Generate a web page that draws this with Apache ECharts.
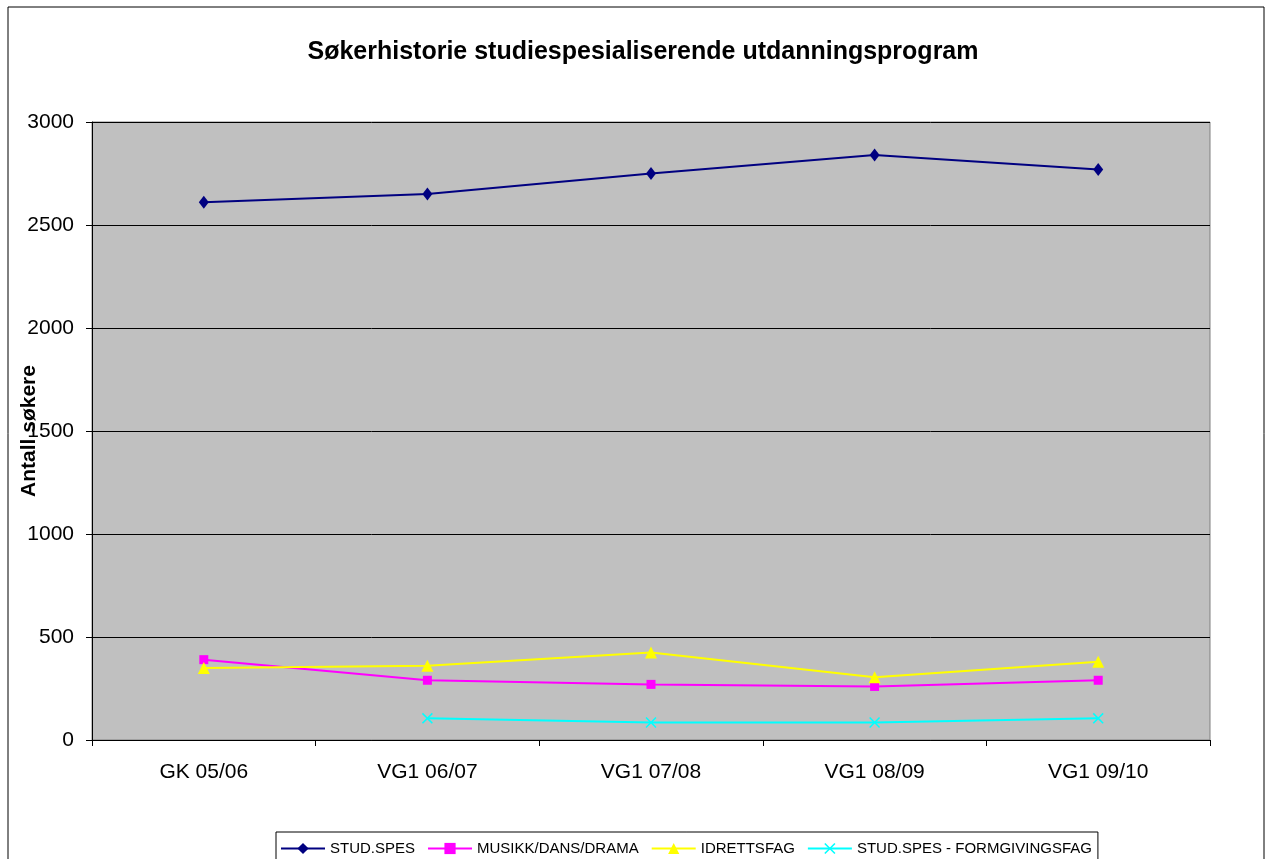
<!DOCTYPE html>
<html>
<head>
<meta charset="utf-8">
<script src="https://cdn.jsdelivr.net/npm/echarts@6/dist/echarts.min.js"></script>
<style>
  html, body { margin: 0; padding: 0; background: #fff; }
</style>
</head>
<body>
<div id="main" style="width:1266px;height:859px;"></div>
<script type="text/javascript">
    // data
    var categories = ['GK 05/06', 'VG1 06/07', 'VG1 07/08', 'VG1 08/09', 'VG1 09/10'];
    var studSpes = [2610, 2650, 2750, 2840, 2770];
    var musikk = [390, 290, 270, 260, 290];
    var idrett = [350, 360, 425, 305, 380];
    var formgiving = [null, 105, 85, 85, 105];
    var yTicks = [0, 500, 1000, 1500, 2000, 2500, 3000];

    var names = ['STUD.SPES', 'MUSIKK/DANS/DRAMA', 'IDRETTSFAG', 'STUD.SPES - FORMGIVINGSFAG'];
    var values = [studSpes, musikk, idrett, formgiving];
    var colors = ['#000080', '#FF00FF', '#FFFF00', '#00FFFF'];
    var symbols = [
        'diamond',
        'rect',
        'triangle',
        'path://M0,1L1,0L5,4L9,0L10,1L6,5L10,9L9,10L5,6L1,10L0,9L4,5Z'
    ];
    var symbolSizes = [[10, 13], 9, 12, 11];

    var myChart = echarts.init(document.getElementById('main'));

    var serieData = [];
    for (var v = 0; v < names.length; v++) {
        serieData.push({
            name: names[v],
            type: 'line',
            symbol: symbols[v],
            symbolSize: symbolSizes[v],
            showAllSymbol: true,
            lineStyle: { color: colors[v], width: 2 },
            itemStyle: { color: colors[v] },
            data: values[v]
        });
    }

    var font = 'Arial, "Liberation Sans", sans-serif';

    var option = {
        backgroundColor: '#ffffff',
        animation: false,
        textStyle: { fontFamily: font },
        title: {
            text: 'Søkerhistorie studiespesialiserende utdanningsprogram',
            left: 638,
            top: 35,
            textAlign: 'center',
            textStyle: { color: '#000', fontSize: 25, fontWeight: 'bold', fontFamily: font }
        },
        graphic: [{
            type: 'rect',
            shape: { x: 8, y: 7, width: 1256, height: 900 },
            style: { fill: 'none', stroke: '#000', lineWidth: 1 },
            silent: true,
            z: -1
        }],
        legend: {
            data: names,
            left: 276,
            top: 832,
            itemWidth: 44,
            itemHeight: 14,
            itemGap: 12,
            padding: [9, 6, 20, 4],
            borderColor: '#000',
            borderWidth: 1,
            textStyle: { color: '#000', fontSize: 15, fontFamily: font }
        },
        grid: {
            left: 92, right: 56, top: 122, bottom: 119,
            outerBoundsMode: 'none',
            containLabel: false,
            show: true,
            backgroundColor: '#C0C0C0',
            borderColor: '#808080',
            borderWidth: 1
        },
        xAxis: {
            type: 'category',
            data: categories,
            boundaryGap: true,
            axisLine: { show: true, lineStyle: { color: '#000', width: 1 } },
            axisTick: { show: true, length: 6, lineStyle: { color: '#000' } },
            axisLabel: { color: '#000', fontSize: 21, margin: 22, fontFamily: font },
            splitLine: { show: false }
        },
        yAxis: {
            type: 'value',
            min: yTicks[0],
            max: yTicks[yTicks.length - 1],
            interval: 500,
            name: 'Antall søkere',
            nameLocation: 'middle',
            nameGap: 52,
            nameMoveOverlap: false,
            nameTextStyle: { color: '#000', fontSize: 21, fontWeight: 'bold', fontFamily: font },
            axisLine: { show: true, lineStyle: { color: '#000', width: 1 } },
            axisTick: { show: true, length: 6, lineStyle: { color: '#000' } },
            axisLabel: {
                color: '#000', fontSize: 21, margin: 18, fontFamily: font,
                formatter: function (val) { return String(val); }
            },
            splitLine: { show: true, lineStyle: { color: '#000', width: 1 } }
        },
        series: serieData
    };
    myChart.setOption(option);
</script>
</body>
</html>
